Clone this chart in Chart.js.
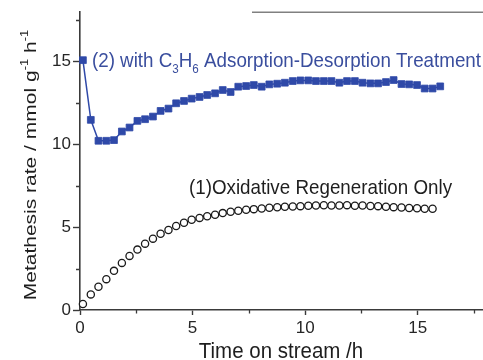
<!DOCTYPE html>
<html>
<head>
<meta charset="utf-8">
<script src="https://cdn.jsdelivr.net/npm/chart.js@4/dist/chart.umd.min.js"></script>
<style>
  html, body { margin: 0; padding: 0; background: #fff; overflow: hidden; }
  #wrap { width: 483px; height: 360px; position: relative; }
</style>
</head>
<body>
<div id="wrap"><canvas id="c" width="483" height="360"></canvas></div>
<script>
// (1) oxidative regeneration only
const timeOxidative = [0.13, 0.48, 0.82, 1.17, 1.51, 1.86, 2.2, 2.55, 2.89, 3.24,
  3.58, 3.93, 4.27, 4.62, 4.96, 5.31, 5.65, 6.0, 6.34, 6.69,
  7.03, 7.38, 7.72, 8.07, 8.41, 8.76, 9.1, 9.45, 9.79, 10.14,
  10.48, 10.83, 11.17, 11.52, 11.86, 12.21, 12.55, 12.9, 13.24, 13.59,
  13.93, 14.28, 14.62, 14.97, 15.31, 15.66];
const rateOxidative = [0.36, 0.94, 1.40, 1.86, 2.36, 2.84, 3.26, 3.64, 4.0, 4.3,
  4.6, 4.82, 5.06, 5.26, 5.44, 5.55, 5.65, 5.74, 5.84, 5.92,
  5.98, 6.04, 6.08, 6.12, 6.16, 6.19, 6.22, 6.24, 6.26, 6.28,
  6.3, 6.31, 6.3, 6.3, 6.32, 6.28, 6.3, 6.27, 6.26, 6.22,
  6.2, 6.18, 6.15, 6.13, 6.1, 6.1];

// (2) with C3H6 adsorption-desorption treatment
const timeTreated = [0.13, 0.48, 0.82, 1.17, 1.51, 1.86, 2.2, 2.55, 2.89, 3.24,
  3.58, 3.93, 4.27, 4.62, 4.96, 5.31, 5.65, 6.0, 6.34, 6.69,
  7.03, 7.38, 7.72, 8.07, 8.41, 8.76, 9.1, 9.45, 9.79, 10.14,
  10.48, 10.83, 11.17, 11.52, 11.86, 12.21, 12.55, 12.9, 13.24, 13.59,
  13.93, 14.28, 14.62, 14.97, 15.31, 15.66, 16.0];
const rateTreated = [15.06, 11.46, 10.2, 10.2, 10.24, 10.76, 11.0, 11.4, 11.5, 11.66,
  12.0, 12.14, 12.46, 12.6, 12.74, 12.84, 12.96, 13.06, 13.26, 13.14,
  13.46, 13.5, 13.56, 13.46, 13.6, 13.64, 13.7, 13.8, 13.84, 13.84,
  13.8, 13.8, 13.8, 13.7, 13.8, 13.8, 13.7, 13.66, 13.66, 13.74,
  13.86, 13.62, 13.6, 13.56, 13.35, 13.35, 13.48];

const xTickValues = [0, 2.5, 5, 7.5, 10, 12.5, 15, 17.5];
const yTickValues = [0, 2.5, 5, 7.5, 10, 12.5, 15, 17.5];

const xAxisTitle = [['Time on stream /h', '']];
const yAxisTitle = [['Metathesis rate / mmol g', ''], ['-1', 'sup'], [' h', ''], ['-1', 'sup']];
const labelOxidative = [['(1)Oxidative Regeneration Only', '']];
const labelTreated = [['(2) with C', ''], ['3', 'sub'], ['H', ''], ['6', 'sub'], [' Adsorption-Desorption Treatment', '']];

const FONT = '"Liberation Sans", Arial, Helvetica, sans-serif';
const BLUE = '#2f49a8';
const BLUE_TEXT = '#3a4e9e';
const AXIS = '#3a3a3a';

// Draws a run of text with optional sub/superscripts, baseline at local y = 0.
function drawRich(ctx, parts, size, color, align) {
  ctx.fillStyle = color;
  ctx.textBaseline = 'alphabetic';
  ctx.textAlign = 'left';
  const items = parts.map(([text, shift]) => {
    const s = shift ? size * 0.62 : size;
    ctx.font = s + 'px ' + FONT;
    return { text, shift, s, w: ctx.measureText(text).width };
  });
  const total = items.reduce((a, b) => a + b.w, 0);
  let x = align === 'center' ? -total / 2 : 0;
  for (const it of items) {
    ctx.font = it.s + 'px ' + FONT;
    const dy = it.shift === 'sub' ? size * 0.3 : it.shift === 'sup' ? -size * 0.42 : 0;
    ctx.fillText(it.text, x, dy);
    x += it.w;
  }
}

const decorations = {
  id: 'decorations',
  afterDraw(chart) {
    const { ctx, chartArea: a, scales: { x, y } } = chart;
    ctx.save();

    // partial top frame line
    ctx.strokeStyle = '#808080';
    ctx.lineWidth = 1.6;
    ctx.beginPath();
    ctx.moveTo(252, a.top);
    ctx.lineTo(a.right, a.top);
    ctx.stroke();

    // minor tick marks
    ctx.strokeStyle = AXIS;
    ctx.lineWidth = 1.3;
    ctx.beginPath();
    xTickValues.filter(v => v % 5 !== 0).forEach(v => {
      const px = Math.round(x.getPixelForValue(v)) + 0.5;
      ctx.moveTo(px, a.bottom);
      ctx.lineTo(px, a.bottom + 3.5);
    });
    yTickValues.filter(v => v % 5 !== 0).forEach(v => {
      const py = Math.round(y.getPixelForValue(v)) + 0.5;
      ctx.moveTo(a.left, py);
      ctx.lineTo(a.left - 4, py);
    });
    ctx.stroke();

    // axis titles
    ctx.save();
    ctx.translate(281, 358);
    ctx.scale(1, 1.1);
    drawRich(ctx, xAxisTitle, 20.5, '#1e1e1e', 'center');
    ctx.restore();

    ctx.save();
    ctx.translate(35.5, 165);
    ctx.rotate(-Math.PI / 2);
    ctx.scale(1, 0.8);
    drawRich(ctx, yAxisTitle, 21, '#1e1e1e', 'center');
    ctx.restore();

    // series labels anchored in data space
    ctx.save();
    ctx.translate(x.getPixelForValue(0.53), y.getPixelForValue(14.65));
    ctx.scale(1, 1.05);
    drawRich(ctx, labelTreated, 18.8, BLUE_TEXT, 'left');
    ctx.restore();

    ctx.save();
    ctx.translate(x.getPixelForValue(4.84), y.getPixelForValue(7.02));
    ctx.scale(1, 1.1);
    drawRich(ctx, labelOxidative, 18.8, '#1e1e1e', 'left');
    ctx.restore();

    ctx.restore();
  }
};

function axisOptions(min, max, tickValues, isX) {
  return {
    type: 'linear',
    position: isX ? 'bottom' : 'left',
    min, max,
    border: { display: true, color: AXIS, width: 1.6 },
    grid: {
      drawOnChartArea: false,
      drawTicks: true,
      tickLength: isX ? 5 : 7,
      tickWidth: 1.4,
      tickColor: c => (c.tick && c.tick.value % 5 === 0) ? AXIS : 'rgba(0,0,0,0)'
    },
    ticks: {
      autoSkip: false,
      maxRotation: 0,
      padding: isX ? 3 : 2,
      color: '#262626',
      font: { family: FONT, size: 17 },
      callback: v => (v % 5 === 0 ? String(v) : '')
    },
    afterBuildTicks: s => { s.ticks = tickValues.map(v => ({ value: v })); },
    afterFit: s => { if (isX) s.height = 50; else s.width = 80; }
  };
}

new Chart(document.getElementById('c'), {
  type: 'scatter',
  data: {
    datasets: [
      {
        label: '(2) with C3H6 Adsorption-Desorption Treatment',
        data: timeTreated.map((t, i) => ({ x: t, y: rateTreated[i] })),
        showLine: true,
        borderColor: BLUE,
        borderWidth: 1.5,
        backgroundColor: BLUE,
        pointStyle: 'rect',
        pointRadius: 4.8,
        pointBorderWidth: 0.8,
        pointBorderColor: BLUE,
        pointBackgroundColor: BLUE,
        clip: false
      },
      {
        label: '(1)Oxidative Regeneration Only',
        data: timeOxidative.map((t, i) => ({ x: t, y: rateOxidative[i] })),
        showLine: false,
        pointStyle: 'circle',
        pointRadius: 3.6,
        pointBorderWidth: 1.3,
        pointBorderColor: '#1a1a1a',
        pointBackgroundColor: '#ffffff',
        clip: false
      }
    ]
  },
  options: {
    responsive: false,
    devicePixelRatio: 1,
    animation: false,
    layout: { autoPadding: false, padding: { top: 11, right: 0, left: 0, bottom: 0 } },
    plugins: { legend: { display: false }, tooltip: { enabled: false } },
    scales: {
      x: axisOptions(0, 17.9, xTickValues, true),
      y: axisOptions(0, 17.95, yTickValues, false)
    }
  },
  plugins: [decorations]
});
</script>
</body>
</html>
